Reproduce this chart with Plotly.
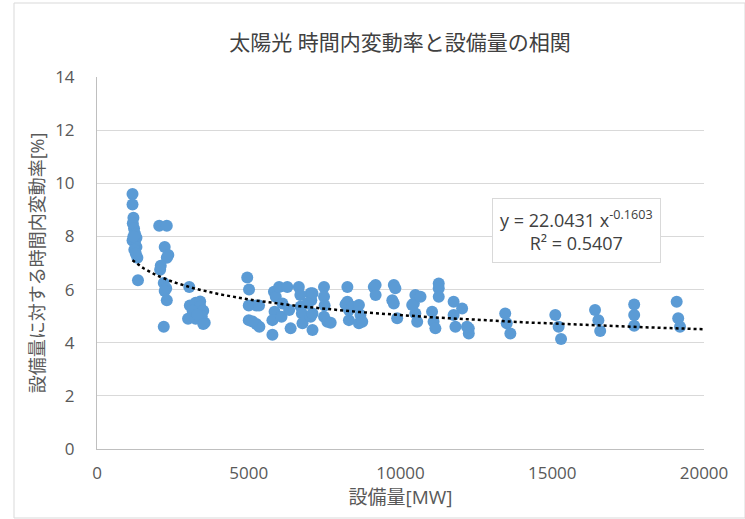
import numpy as np
import plotly.graph_objects as go

# capacity [MW]
capacity_mw = [
    1170, 1170, 1200, 1180, 1220, 1250, 1170, 1300, 1250, 1300, 1230, 1330, 1350, 1280, 1200,
    2050, 2300, 2230, 2350, 2300, 2100, 2080, 2200, 2280, 2230, 2300, 2200,
    3040, 3060, 3250, 3400, 3400, 3150, 3500, 3000, 3250, 3450, 3550, 3500, 3300,
    4950, 5010, 5000, 5250, 5000, 5250, 5350, 5120, 5340,
    5830, 5890, 5850, 5780, 5780, 6000, 6270, 6110, 6080, 6380, 6330, 6650, 6700, 6710, 6750, 6770,
    7040, 7060, 7040, 7100, 7100, 6930, 7100, 7480, 7480, 7500, 7480, 7590, 7700,
    8250, 8250, 8300, 8300, 8190, 8410, 8630, 8680, 8630, 8740,
    9120, 9180, 9180, 9780, 9730, 9780, 9890, 9830,
    10490, 10440, 10490, 10550, 10385, 10660,
    11260, 11260, 11260, 11040, 11090, 11150, 11750, 12030, 11750, 11810, 12250, 12250, 12190,
    13450, 13500, 13620,
    15100, 15210, 15290,
    16410, 16520, 16580,
    17700, 17700, 17700,
    19100, 19150, 19210,
]

# intra-hour fluctuation rate relative to capacity [%]
fluct_pct = [
    9.6, 9.2, 8.7, 8.5, 8.3, 8.1, 7.85, 7.95, 7.75, 7.6, 7.5, 7.2, 6.35, 7.35, 8.0,
    8.4, 8.4, 7.6, 7.3, 7.2, 6.9, 6.75, 6.25, 6.05, 5.95, 5.6, 4.6,
    6.1, 5.4, 5.5, 5.55, 5.35, 5.2, 5.2, 4.9, 4.9, 5.0, 4.75, 4.7, 5.05,
    6.45, 6.0, 5.4, 5.4, 4.85, 4.7, 4.6, 4.8, 5.4,
    5.92, 5.73, 5.17, 4.85, 4.3, 6.1, 6.1, 5.48, 4.98, 4.54, 5.23, 6.1, 5.8, 5.36, 5.1, 4.73,
    5.86, 5.6, 4.98, 4.48, 5.86, 5.48, 5.1, 6.1, 5.73, 5.4, 4.98, 4.79, 4.75,
    6.1, 5.54, 5.23, 4.85, 5.45, 5.35, 5.42, 5.04, 4.73, 4.79,
    6.1, 5.8, 6.17, 6.17, 5.6, 5.48, 4.92, 6.05,
    5.8, 5.48, 5.1, 4.79, 5.42, 5.73,
    6.23, 6.05, 5.73, 5.17, 4.79, 4.54, 5.54, 5.29, 5.04, 4.6, 4.54, 4.35, 4.6,
    5.1, 4.73, 4.35,
    5.04, 4.6, 4.14,
    5.23, 4.85, 4.44,
    5.44, 5.04, 4.64,
    5.54, 4.92, 4.6,
]

fit_a = 22.0431
fit_b = -0.1603
fit_r2 = 0.5407

x_ticks = [0, 5000, 10000, 15000, 20000]
y_ticks = [0, 2, 4, 6, 8, 10, 12, 14]

FONT = "Open Sans, Noto Sans CJK JP, sans-serif"
TXT = "#595959"

fx = np.linspace(min(capacity_mw), 20000, 300)
fy = fit_a * fx ** fit_b

fig = go.Figure()
fig.add_trace(go.Scatter(
    x=capacity_mw, y=fluct_pct, mode="markers",
    marker=dict(color="#5B9BD5", size=12, line=dict(width=0)),
    showlegend=False, hoverinfo="x+y"))
fig.add_trace(go.Scatter(
    x=fx, y=fy, mode="lines",
    line=dict(color="#000000", width=2.5, dash="dot"),
    showlegend=False, hoverinfo="skip"))

fig.update_layout(
    width=745, height=519,
    margin=dict(l=97, r=41, t=77, b=70, autoexpand=False),
    paper_bgcolor="white", plot_bgcolor="white",
    font=dict(family=FONT, color=TXT, size=17),
    title=dict(text="太陽光 時間内変動率と設備量の相関", x=400 / 745, xanchor="center",
               y=(519 - 43) / 519, yanchor="middle",
               font=dict(family=FONT, size=21, color="#404040")),
    xaxis=dict(range=[0, 20000], tickvals=x_ticks, ticktext=[str(v) for v in x_ticks],
               showgrid=False, zeroline=False, showline=True, linecolor="#BFBFBF",
               linewidth=1, ticks="", ticklabelstandoff=9, tickfont=dict(size=17, color=TXT),
               title=dict(text="設備量[MW]", font=dict(size=19, color=TXT), standoff=4)),
    yaxis=dict(range=[0, 14], tickvals=y_ticks, ticktext=[str(v) for v in y_ticks],
               showgrid=True, gridcolor="#D9D9D9", gridwidth=1, zeroline=False,
               showline=True, linecolor="#BFBFBF", linewidth=1, ticks="",
               ticklabelstandoff=18, tickfont=dict(size=17, color=TXT),
               title=dict(text="設備量に対する時間内変動率[%]", font=dict(size=18, color=TXT), standoff=5)),
)

fig.add_annotation(
    xref="paper", yref="paper", x=(576 - 97) / 607, y=(449 - 230) / 372,
    xanchor="center", yanchor="middle",
    text=f"y = {fit_a} x<sup>{fit_b}</sup><br>R² = {fit_r2}",
    showarrow=False, align="center", bgcolor="white",
    bordercolor="#D9D9D9", borderwidth=1, borderpad=7,
    font=dict(family=FONT, size=18, color="#404040"))

# outer chart-area border
fig.add_shape(type="rect", xref="paper", yref="paper",
              x0=(14 - 97) / 607, x1=(745 - 97) / 607,
              y0=(449 - 518) / 372, y1=(449 - 3) / 372,
              line=dict(color="#D9D9D9", width=1), layer="below")

fig.write_html("out.html")
